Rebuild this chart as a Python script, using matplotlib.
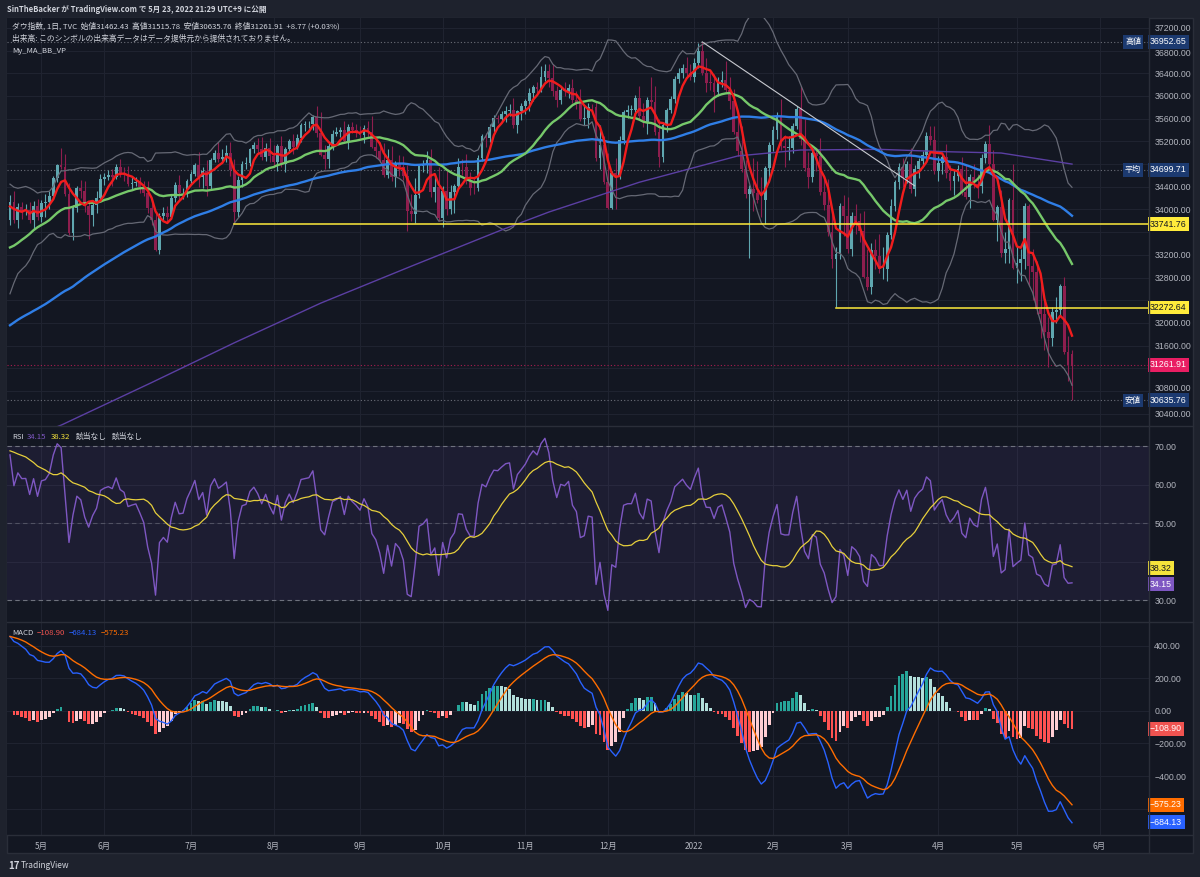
import matplotlib
matplotlib.use("Agg")
import matplotlib.pyplot as plt
from matplotlib.patches import Rectangle
from matplotlib.lines import Line2D
import numpy as np
import pandas as pd

plt.rcParams['font.family'] = ['Noto Sans CJK JP', 'DejaVu Sans']

# ---------------- data (DJI daily, TVC) ----------------
# closes before the visible window, only used to warm up the indicators (Jan 4 - Apr 20, 2021)
pre_closes = [30223, 30392, 30829, 31041, 31097, 31008, 31068, 31060, 31112, 30814,
              30930, 31188, 31176, 30997, 30960, 30937, 30303, 30603, 29983,
              30212, 30688, 30724, 31056, 31148, 31386, 31375, 31438, 31431, 31458,
              31523, 31613, 31494, 31494, 31522, 31537, 31962, 31402, 30932,
              31535, 31391, 31270, 30924, 31496, 31802, 31832, 32297, 32485, 32779,
              32953, 32826, 33015, 32862, 32628, 32731, 32423, 32420, 32619, 33072,
              33171, 33067, 32981,
              33153, 33527, 33430, 33446, 33503, 33801, 33745, 33677, 33730, 34035,
              34200, 34078, 33821]

# visible window: Apr 21, 2021 -> May 20, 2022
closes = [34137, 33815, 34043, 33981, 33984, 33820, 34060, 33874,
          34113, 34133, 34230, 34548, 34777, 34742, 34269, 33587, 34021, 34382,
          34327, 34060, 33896, 34084, 34207, 34529,
          34575, 34600, 34577, 34756, 34630, 34600, 34447, 34466, 34480, 34394,
          34299, 34033, 33823, 33290, 33877, 33945, 33874, 34196, 34434, 34283, 34292, 34503,
          34633, 34786, 34577, 34681, 34422, 34870, 34996, 34889, 34933, 34987,
          34688, 33962, 34512, 34798, 34823, 35062, 35145, 35059, 34931, 35085, 34935,
          34838, 35117, 34793, 35065, 35209, 35102, 35265, 35485, 35500, 35515,
          35625, 35344, 34961, 34894, 35120, 35336, 35367, 35406, 35214, 35456, 35400, 35361,
          35313, 35444, 35369, 35100, 35031, 34879, 34608, 34870, 34578, 34814,
          34751, 34584, 33970, 33919, 34258, 34765, 34798, 34870, 34300, 34390, 33844,
          34326, 34003, 34315, 34417, 34755, 34746, 34496, 34378, 34377, 34913,
          35295, 35259, 35457, 35609, 35603, 35677, 35741, 35757, 35490, 35731, 35820,
          35913, 36053, 36158, 36124, 36328, 36432, 36320, 36080, 35921, 36100,
          36087, 36143, 35931, 35871, 35601, 35619, 35814, 35805, 34899, 35136, 34484,
          34023, 34640, 34580, 35227, 35720, 35754, 35755, 35971, 35650, 35545,
          35927, 35898, 35365, 34932, 35493, 35754, 35951, 36302, 36398, 36488, 36398, 36338,
          36585, 36800, 36408, 36236, 36232, 36069, 36252, 36290, 36114, 35912,
          35369, 35029, 34715, 34265, 34365, 34298, 34168, 34160, 34725, 35132,
          35405, 35629, 35112, 35090, 35092, 35463, 35768, 35242, 34738, 34566,
          34989, 34935, 34312, 34079, 33597, 33132, 33224, 34059, 33893,
          33295, 33892, 33795, 33615, 32818, 32633, 33286, 33174, 32944, 32945,
          33545, 34063, 34481, 34755, 34553, 34808, 34359, 34708, 34862, 34955,
          35295, 35229, 34678,
          34818, 34922, 34641, 34497, 34584, 34721, 34308, 34221, 34565, 34452,
          34412, 34912, 35161, 34793, 33811, 34049, 33240, 33302, 34160, 32977,
          33062, 33129, 34061, 32998, 32899, 32246, 32161, 31834, 31730, 32197,
          32223, 32655, 31490, 31253, 31261.91]

# shadow length above / below the body, in points
wick_up = [120, 190, 80, 90, 110, 140, 90, 130,
           60, 140, 100, 40, 30, 314, 230, 200, 60, 40, 130, 170, 90, 80, 120, 100,
           60, 90, 120, 50, 140, 120, 160, 110, 90, 100, 110, 210, 140, 120, 60, 100, 110, 60, 50, 170, 80, 40,
           40, 30, 230, 60, 190, 30, 50, 200, 140, 150, 210, 200, 70, 50, 100, 30, 40, 120, 220, 80, 180,
           200, 40, 180, 40, 40, 120, 70, 40, 60, 40, 40, 200, 370, 180, 60, 60, 90, 40, 160, 50, 90, 110,
           110, 50, 110, 270, 120, 160, 300, 200, 250, 40, 140, 200, 200, 310, 300, 40, 80, 160, 200, 220, 360,
           80, 360, 120, 40, 160, 140, 240, 160, 180, 40, 40, 60, 50, 50, 60, 60, 90, 110, 200, 30, 50,
           40, 80, 40, 80, 200, 133, 130, 240, 100, 50, 150, 70, 160, 160, 260, 230, 60, 40, 100, 350, 164,
           516, 40, 260, 70, 40, 80, 90, 50, 200, 230, 60, 400, 280, 230, 50, 40, 50, 50, 90, 70, 200, 170,
           80, 130, 153, 270, 190, 160, 90, 150, 330, 220, 210, 350, 450, 150, 60, 540, 550, 410, 50, 60,
           60, 80, 320, 200, 200, 60, 60, 400, 350, 270, 90, 90, 320, 230, 460, 380, 120, 60, 200,
           330, 70, 210, 140, 350, 482, 130, 200, 390, 390, 60, 130, 40, 60, 160, 40, 280, 80, 50, 70, 77, 180, 250,
           120, 50, 230, 150, 120, 70, 200, 470, 60, 230, 180, 60, 50, 331, 260, 30, 300, 300, 50, 640,
           290, 180, 56, 40, 300, 190, 440, 270, 280, 80, 230, 33, 160, 280, 53.35]
wick_dn = [90, 60, 150, 140, 80, 60, 170, 60,
           90, 250, 130, 40, 60, 30, 40, 30, 130, 60, 120, 110, 423, 180, 140, 60,
           90, 50, 160, 40, 60, 100, 40, 90, 60, 110, 60, 100, 90, 19, 80, 60, 90, 40, 60, 110, 90, 80,
           60, 50, 180, 190, 180, 60, 40, 60, 70, 100, 90, 220, 90, 120, 80, 50, 60, 60, 60, 80, 90,
           90, 160, 50, 140, 70, 120, 40, 70, 100, 60, 120, 70, 20, 180, 160, 70, 40, 90, 30, 140, 50, 80,
           60, 150, 90, 20, 130, 40, 40, 60, 80, 180, 160, 70, 357, 120, 150, 60, 110, 160, 80, 160, 40,
           150, 100, 80, 370, 60, 130, 40, 130, 110, 60, 50, 160, 70, 100, 80, 50, 140, 90, 50, 150, 150,
           130, 170, 140, 70, 60, 60, 160, 80, 120, 60, 90, 120, 60, 100, 40, 120, 190, 130, 40, 180, 40,
           17, 20, 574, 40, 80, 110, 90, 120, 80, 90, 220, 70, 50, 182, 100, 120, 60, 80, 80, 80, 40, 50,
           90, 90, 40, 170, 130, 360, 70, 100, 50, 140, 40, 90, 60, 60, 1115, 330, 60, 300, 420, 240,
           100, 170, 70, 340, 210, 100, 40, 110, 60, 180, 90, 250, 50, 80, 60, 160, 859, 90, 360,
           70, 120, 230, 180, 23, 55, 120, 220, 60, 170, 200, 60, 90, 120, 160, 80, 70, 120, 150, 90, 110, 100, 60,
           180, 200, 90, 150, 240, 90, 60, 40, 190, 80, 210, 120, 100, 40, 20, 370, 70, 180, 240, 30,
           280, 320, 180, 341, 500, 90, 420, 310, 501, 130, 200, 80, 40, 280, 626.15]
last_open = 31462.43

# 200 day MA (purple): bar index -> value
purple_idx = [0, 13, 36, 57, 79, 102, 125, 137, 160, 185, 201, 221, 238, 252, 270]
purple_val = [29850, 30200, 30950, 31650, 32350, 33000, 33640, 33955, 34480, 34943,
              35048, 35060, 35018, 34995, 34800]

month_pos = [8, 24, 46, 67, 89, 110, 131, 152, 174, 194, 213, 236, 256, 277]
month_labels = ['5月', '6月', '7月', '8月', '9月', '10月', '11月', '12月',
                '2022', '2月', '3月', '4月', '5月', '6月']

high_val, avg_val, low_val = 36952.65, 34699.71, 30635.76
last_close = 31261.91
level_start = [57, 210]
level_val = [33741.76, 32272.64]
trend_idx = [176, 230]
trend_val = [36952.65, 34417]
rsi_last, rsi_ma_last = 34.15, 38.32
macd_last, signal_last, hist_last = -684.13, -575.23, -108.90

price_ticks = list(range(30400, 37201, 400))
rsi_ticks = [30, 40, 50, 60, 70]
macd_ticks = [-600, -400, -200, 0, 200, 400]

# ---------------- indicators ----------------
n_pre = len(pre_closes)
s = pd.Series(pre_closes + closes, dtype=float)
ma5 = s.rolling(5).mean().values[n_pre:]
ma25 = s.rolling(25).mean().values[n_pre:]
ma75 = s.rolling(75).mean().values[n_pre:]
bb_mid = s.rolling(20).mean()
bb_sd = s.rolling(20).std(ddof=0)
bb_up = (bb_mid + 2 * bb_sd).values[n_pre:]
bb_lo = (bb_mid - 2 * bb_sd).values[n_pre:]

delta = s.diff()
gain = delta.clip(lower=0).ewm(alpha=1 / 14, adjust=False).mean()
loss = (-delta.clip(upper=0)).ewm(alpha=1 / 14, adjust=False).mean()
rsi_all = 100 - 100 / (1 + gain / loss)
rsi = rsi_all.values[n_pre:]
rsi_ma = rsi_all.rolling(14).mean().values[n_pre:]

macd_all = s.ewm(span=12, adjust=False).mean() - s.ewm(span=26, adjust=False).mean()
signal_all = macd_all.ewm(span=9, adjust=False).mean()
hist_all = macd_all - signal_all
macd = macd_all.values[n_pre:]
signal = signal_all.values[n_pre:]
hist = hist_all.values[n_pre:]
hist_prev = hist_all.shift(1).values[n_pre:]

c = np.array(closes, dtype=float)
o = np.r_[pre_closes[-1], c[:-1]]
o[-1] = last_open
hi = np.maximum(o, c) + np.array(wick_up)
lo = np.minimum(o, c) - np.array(wick_dn)
idx = np.arange(len(c))

# ---------------- figure ----------------
W, H = 1200, 877
OUTER = '#1e222d'
PANEL = '#131722'
BORDER = '#2a2e39'
GRID = '#1f2330'
TXT = '#b2b5be'
X0, X1 = 7, 1148.7
XLIM = (-0.76, 289.5)
TICK_PAD = 4  # points

fig = plt.figure(figsize=(W / 100, H / 100), dpi=100, facecolor=OUTER)


def fx(x):
    return x / W


def fy(y):
    return 1 - y / H


fig.patches.append(Rectangle((fx(7), fy(853)), fx(1193 - 7), (853 - 18) / H,
                             transform=fig.transFigure, facecolor=PANEL,
                             edgecolor=BORDER, lw=1, zorder=-10))


def num(v):
    return f'{v:.2f}'.replace('-', '\u2212')


def add_pane(top, bottom, ylim):
    ax = fig.add_axes([fx(X0), fy(bottom), fx(X1 - X0), (bottom - top) / H])
    ax.set_facecolor(PANEL)
    ax.set_xlim(*XLIM)
    ax.set_ylim(*ylim)
    for sp in ax.spines.values():
        sp.set_visible(False)
    ax.set_xticks(month_pos)
    ax.yaxis.tick_right()
    ax.tick_params(axis='y', length=0, pad=TICK_PAD, labelsize=6.3, labelcolor=TXT,
                   labelfontfamily='Liberation Sans')
    ax.tick_params(axis='x', length=0, labelbottom=False)
    ax.grid(True, color=GRID, lw=0.8)
    ax.set_axisbelow(True)
    ax.px_per_unit = (bottom - top) / (ylim[1] - ylim[0])
    return ax


def set_scale(ax, ticks, boxes):
    # price-scale labels hidden under a value box are dropped, near ones pushed aside
    labels = []
    for t in ticks:
        d = [(abs(t - b) * ax.px_per_unit, b) for b in boxes]
        dist, b = min(d) if d else (99, 0)
        if dist >= 11:
            labels.append(num(t))
            continue
        labels.append('')
        if dist >= 8.5:
            yv = b + np.sign(t - b) * 11.5 / ax.px_per_unit
            ax.text(1, yv, num(t), transform=ax.get_yaxis_transform(), ha='left',
                    va='center', fontsize=6.3, color=TXT, family='Liberation Sans',
                    clip_on=False, zorder=15,
                    bbox=dict(boxstyle='square,pad=0', fc='none', ec='none'))
    ax.set_yticks(ticks, labels)
    # shift hand-made labels to the same x as tick labels
    for t in ax.texts:
        if t.get_zorder() == 15:
            t.set_x(1 + (TICK_PAD * 100 / 72) / ((X1 - X0)))


ax_p = add_pane(18, 426, (30185, 37374))
ax_r = add_pane(426, 622, (24.4, 75.2))
ax_m = add_pane(622, 835, (-762, 545))
set_scale(ax_p, price_ticks, [high_val, avg_val, low_val, last_close] + level_val)
set_scale(ax_r, rsi_ticks, [rsi_last, rsi_ma_last])
set_scale(ax_m, macd_ticks, [macd_last, signal_last, hist_last])

# candles
up = c >= o
col = np.where(up, '#5fa7b0', '#8e1e4e')
ax_p.vlines(idx, lo, hi, colors=col, lw=0.8, zorder=2)
ax_p.bar(idx, np.maximum(np.abs(c - o), 8), bottom=np.minimum(o, c), width=0.7,
         color=col, zorder=2)

# bollinger + moving averages
ax_p.plot(idx, bb_up, color='#666975', lw=0.9, zorder=3)
ax_p.plot(idx, bb_lo, color='#666975', lw=0.9, zorder=3)
ax_p.plot(purple_idx, purple_val, color='#5b3fa3', lw=1.0, zorder=3)
ax_p.plot(idx, ma75, color='#2f7ee6', lw=1.7, zorder=4)
ax_p.plot(idx, ma25, color='#76c86a', lw=1.7, zorder=4)
ax_p.plot(idx, ma5, color='#f21d1d', lw=1.7, zorder=5)

# drawings
for st, v in zip(level_start, level_val):
    ax_p.plot([st, XLIM[1]], [v, v], color='#ffeb3b', lw=1.1, zorder=6)
ax_p.plot(trend_idx, trend_val, color='#c8cad0', lw=0.8, zorder=6)
for v in (high_val, avg_val, low_val):
    ax_p.axhline(v, color='#6b6e78', lw=0.8, ls=(0, (1, 2)), zorder=1)
ax_p.axhline(last_close, color='#e91e63', lw=0.8, ls=(0, (1, 2)), alpha=0.7, zorder=1)


def axis_box(ax, val, text, bg, fg='white'):
    ax.text((1150 - X0) / (X1 - X0), val, text, transform=ax.get_yaxis_transform(),
            ha='left', va='center', fontsize=6.3, color=fg, family='Liberation Sans',
            clip_on=False, zorder=20,
            bbox=dict(boxstyle='square,pad=0.28', fc=bg, ec='none'))


NAVY = '#1c3a70'


def tag_box(ax, val, text):
    ax.text((1125 - X0) / (X1 - X0), val, text, transform=ax.get_yaxis_transform(),
            ha='left', va='center', fontsize=5.8, color='white',
            clip_on=False, zorder=20,
            bbox=dict(boxstyle='square,pad=0.3', fc=NAVY, ec='none'))


axis_box(ax_p, high_val, num(high_val), NAVY)
axis_box(ax_p, avg_val, num(avg_val), NAVY)
axis_box(ax_p, low_val, num(low_val), NAVY)
tag_box(ax_p, high_val, '高値')
tag_box(ax_p, avg_val, '平均')
tag_box(ax_p, low_val, '安値')
axis_box(ax_p, level_val[0], num(level_val[0]), '#ffeb3b', '#131722')
axis_box(ax_p, level_val[1], num(level_val[1]), '#ffeb3b', '#131722')
axis_box(ax_p, last_close, num(last_close), '#e91e63')

# RSI pane
ax_r.axhspan(30, 70, color='#7e57c2', alpha=0.1, lw=0)
for v, a in ((70, 0.9), (50, 0.5), (30, 0.9)):
    ax_r.axhline(v, color='#787b86', lw=0.8, ls=(0, (4, 3)), alpha=a)
ax_r.plot(idx, rsi, color='#7e57c2', lw=1.0)
ax_r.plot(idx, rsi_ma, color='#e6cf3c', lw=0.9)
axis_box(ax_r, rsi_ma_last, num(rsi_ma_last), '#f5e33b', '#131722')
axis_box(ax_r, rsi_last, num(rsi_last), '#7e57c2')

# MACD pane
hcol = np.where(hist >= 0,
                np.where(hist > hist_prev, '#26a69a', '#b2dfdb'),
                np.where(hist < hist_prev, '#ff5252', '#ffcdd2'))
ax_m.bar(idx, hist, width=0.7, color=hcol, zorder=2)
ax_m.plot(idx, macd, color='#2962ff', lw=1.0, zorder=3)
ax_m.plot(idx, signal, color='#ff6d00', lw=1.0, zorder=3)
axis_box(ax_m, hist_last, num(hist_last), '#ef5350')
axis_box(ax_m, signal_last, num(signal_last), '#ff6d00')
axis_box(ax_m, macd_last, num(macd_last), '#2962ff')

ax_m.set_xticklabels(month_labels)
ax_m.tick_params(axis='x', labelbottom=True, pad=5, labelsize=6, labelcolor=TXT)

# separators
for y in (426, 622, 835):
    fig.add_artist(Line2D([fx(7), fx(1193)], [fy(y), fy(y)], color=BORDER, lw=1))
fig.add_artist(Line2D([fx(X1), fx(X1)], [fy(18), fy(853)], color=BORDER, lw=1))

# header texts
fig.text(fx(7), fy(10), 'SinTheBacker が TradingView.com で 5月 23, 2022 21:29 UTC+9 に公開',
         fontsize=5.5, fontweight='bold', color='#d1d4dc', va='center')
fig.text(fx(12), fy(26), 'ダウ指数, 1日, TVC  始値31462.43  高値31515.78  安値30635.76  '
         '終値31261.91  +8.77 (+0.03%)', fontsize=5.6, color='#d1d4dc', va='center')
fig.text(fx(12), fy(39), '出来高: このシンボルの出来高データはデータ提供元から提供されておりません。',
         fontsize=5.6, color='#d1d4dc', va='center')
fig.text(fx(12), fy(51), 'My_MA_BB_VP', fontsize=5.6, color='#d1d4dc', va='center')

for x, t, cl in ((12, 'RSI', '#d1d4dc'), (27, '34.15', '#7e57c2'), (51, '38.32', '#f5e33b'),
                 (76, '該当なし', '#d1d4dc'), (112, '該当なし', '#d1d4dc')):
    fig.text(fx(x), fy(437), t, fontsize=5.6, color=cl, va='center')
for x, t, cl in ((12, 'MACD', '#d1d4dc'), (37, '\u2212108.90', '#ef5350'),
                 (69, '\u2212684.13', '#2962ff'), (101, '\u2212575.23', '#ff6d00')):
    fig.text(fx(x), fy(633), t, fontsize=5.6, color=cl, va='center')

# footer logo
fig.text(fx(8), fy(866), '17', fontsize=7, fontweight='bold', color='#d1d4dc', va='center')
fig.text(fx(21), fy(866), 'TradingView', fontsize=6, color='#d1d4dc', va='center')

fig.savefig('out.png', dpi=100, facecolor=OUTER)
